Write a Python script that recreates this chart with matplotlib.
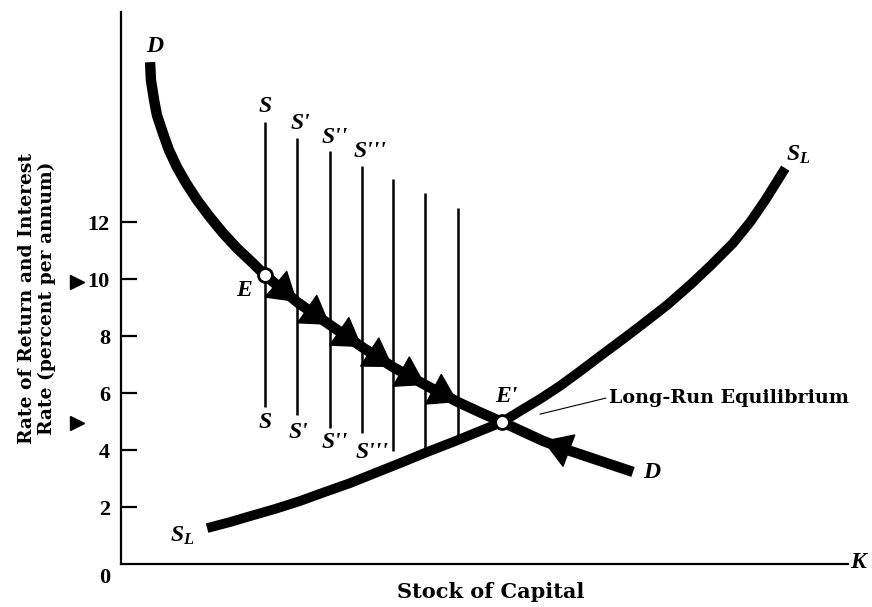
import matplotlib
matplotlib.use("Agg")
import matplotlib.pyplot as plt

plt.rcParams["font.family"] = ["Liberation Serif", "DejaVu Serif"]
plt.rcParams["mathtext.fontset"] = "custom"
plt.rcParams["mathtext.it"] = "Liberation Serif:italic:bold"
plt.rcParams["mathtext.rm"] = "Liberation Serif:bold"

# demand curve D
d_x = [1.02, 1.05, 1.16, 1.26, 1.47, 1.68, 1.96, 2.28, 2.67, 3.09, 3.58, 4.07, 4.6, 5.05,
       6.18, 7.33, 8.46, 9.54, 10.68, 11.82, 12.6, 13.37, 14.8, 15.6, 17.96]
d_y = [17.61, 16.98, 16.28, 15.75, 15.12, 14.53, 13.93, 13.37, 12.77, 12.21, 11.61, 11.08, 10.58, 10.14,
       9.19, 8.39, 7.61, 6.91, 6.28, 5.68, 5.32, 4.98, 4.32, 4.02, 3.23]

# long-run supply SL
sl_x = [3.02, 3.82, 4.53, 5.40, 6.28, 7.16, 8.04, 8.91, 9.79, 10.74, 11.82, 12.60, 13.37, 14.0,
        14.70, 15.40, 16.11, 16.81, 17.51, 18.21, 19.16, 19.96, 20.67, 21.47, 22.07, 22.60, 22.95, 23.30]
sl_y = [1.26, 1.47, 1.68, 1.93, 2.21, 2.53, 2.84, 3.19, 3.54, 3.93, 4.35, 4.67, 4.98, 5.37,
        5.79, 6.25, 6.77, 7.30, 7.82, 8.35, 9.09, 9.79, 10.46, 11.26, 12.0, 12.77, 13.33, 13.89]

# short-run supply lines S, S', S'', S''' ...
s_x = [5.05, 6.18, 7.33, 8.46, 9.54, 10.68, 11.82]
s_top = [15.51, 14.95, 14.49, 13.96, 13.51, 13.02, 12.49]
s_bot = [5.51, 5.23, 4.77, 4.6, 3.96, 3.9, 4.3]
s_names = ["S", "S'", "S''", "S'''"]

# arrowheads on D: (tail index, tip index)
arrows = [(13, 14), (14, 15), (15, 16), (16, 17), (17, 18), (18, 19), (23, 22)]

eq_x = [5.05, 13.37]
eq_y = [10.14, 4.98]
marks_y = [9.9, 4.95]
yticks = [2, 4, 6, 8, 10, 12]

fig = plt.figure(figsize=(8.72, 6.07), dpi=100)
ax = fig.add_axes([121 / 872, 43 / 607, 727 / 872, 552 / 607])
ax.set_xlim(0, 25.5)
ax.set_ylim(0, 19.37)
for side in ["top", "right"]:
    ax.spines[side].set_visible(False)
for side in ["left", "bottom"]:
    ax.spines[side].set_linewidth(1.6)
ax.set_xticks([])
ax.set_yticks(yticks)
ax.set_yticklabels([str(t) for t in yticks], fontsize=16, fontweight="bold")
ax.tick_params(axis="y", direction="in", length=11.5, width=1.6, pad=8)

for x, t, b in zip(s_x, s_top, s_bot):
    ax.plot([x, x], [b, t], color="black", lw=1.8, solid_capstyle="butt")

ax.plot(sl_x, sl_y, color="black", lw=7, solid_capstyle="butt", solid_joinstyle="round")
ax.plot(d_x, d_y, color="black", lw=7.5, solid_capstyle="butt", solid_joinstyle="round")

for a, b in arrows:
    ax.annotate("", xy=(d_x[b], d_y[b]), xytext=(d_x[a], d_y[a]),
                arrowprops=dict(arrowstyle="-|>,head_length=0.95,head_width=0.6",
                                color="black", lw=1, mutation_scale=20,
                                shrinkA=0, shrinkB=0))

ax.plot(eq_x, eq_y, "o", ms=10, mfc="white", mec="black", mew=2, zorder=5)

ax.plot([-1.54] * len(marks_y), marks_y, ">", ms=10, color="black", clip_on=False)

lab = dict(fontsize=17, fontweight="bold", fontstyle="italic", ha="center", va="center")
top_pos = [(5.05, 16.04), (6.28, 15.44), (7.51, 14.95), (8.74, 14.46)]
bot_pos = [(5.05, 4.98), (6.21, 4.63), (7.51, 4.25), (8.81, 3.93)]
for n, (x, y) in zip(s_names, top_pos):
    ax.text(x, y, n, **lab)
for n, (x, y) in zip(s_names, bot_pos):
    ax.text(x, y, n, **lab)

ax.text(1.19, 18.15, "D", **lab)
ax.text(18.63, 3.2, "D", **lab)
ax.text(23.75, 14.35, r"$S_L$", fontsize=17, ha="center", va="center")
ax.text(2.15, 1.0, r"$S_L$", fontsize=17, ha="center", va="center")
ax.text(4.3, 9.6, "E", **lab)
ax.text(13.5, 5.88, "E'", **lab)

serif_wide = ["DejaVu Serif"]
ax.text(17.1, 5.82, "Long-Run Equilibrium", fontsize=13.8, fontweight="bold",
        family=serif_wide, ha="left", va="center")
ax.plot([17.0, 14.7], [5.82, 5.26], color="black", lw=0.8)

ax.text(25.86, 0.04, "K", fontsize=17, fontweight="bold", fontstyle="italic", ha="center", va="center", clip_on=False)
ax.text(-0.56, -0.49, "0", fontsize=16, fontweight="bold", ha="center", va="center", clip_on=False)
ax.text(12.95, -1.0, "Stock of Capital", fontsize=15, fontweight="bold", family=serif_wide,
        ha="center", va="center", clip_on=False)

fig.text(37 / 872, 1 - 298 / 607, "Rate of Return and Interest\nRate (percent per annum)",
         rotation=90, fontsize=13.5, fontweight="bold", family=serif_wide,
         ha="center", va="center", linespacing=1.1)

fig.savefig("out.png", dpi=100)
